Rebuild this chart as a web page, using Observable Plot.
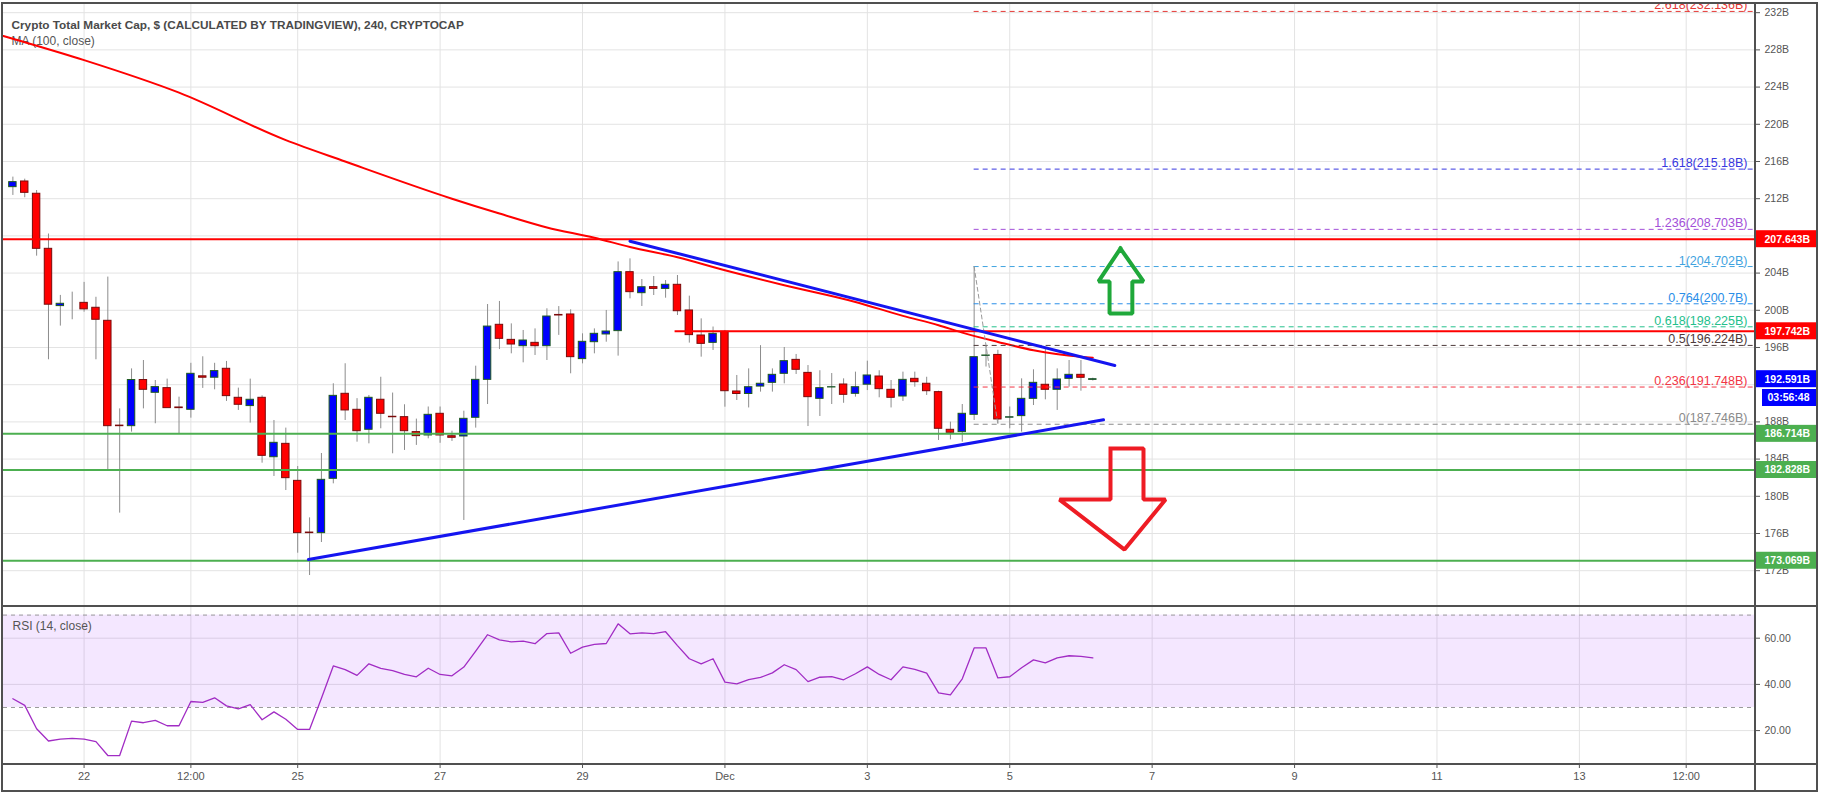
<!DOCTYPE html>
<html><head><meta charset="utf-8">
<script src="https://cdn.jsdelivr.net/npm/d3@7"></script>
<script src="https://cdn.jsdelivr.net/npm/@observablehq/plot@0.6"></script>
<style>
html,body{margin:0;padding:0;background:#fff;}
#wrap{position:relative;width:1821px;height:796px;overflow:hidden;background:#fff;}
#wrap > svg{position:absolute;left:0;}
.sep{position:absolute;background:#505050;}
</style></head><body><div id="wrap"></div>
<script>
// ---------------- DATA ----------------
const startUTC = Date.UTC(2018, 10, 21, 0, 0);   // first 4h bar
const barHours = 4;
const open  = [213.24,213.85,212.53,206.61,200.45,200.8,200.8,200.27,198.87,187.6,187.54,192.5,191.13,191.63,189.55,189.3,192.9,192.75,193.71,190.59,189.7,190.59,184.2,185.64,181.66,176.1,176.04,181.88,191.02,189.3,187.15,190.38,188.55,188.51,186.9,186.54,188.87,186.46,186.43,188.44,192.52,198.44,196.82,196.14,196.5,196.14,199.5,199.55,194.75,196.57,197.4,197.76,204.1,201.84,202.49,202.3,202.74,199.98,197.29,196.5,197.69,191.27,191.0,191.8,192.2,193.17,194.67,193.27,190.48,191.7,192.02,191.02,192.0,192.88,191.45,190.73,192.63,192.1,191.2,187.15,186.9,188.76,195.1,195.2,188.45,188.62,190.48,191.99,191.45,192.63,193.06,192.52];
const high  = [214.32,214.1,212.88,208.2,201.6,201.95,203.0,201.4,203.57,189.4,193.7,194.6,192.45,192.6,190.66,194.3,195.0,194.3,194.5,191.63,192.6,190.8,188.15,187.33,183.2,177.68,184.6,192.1,194.25,190.5,190.84,192.8,191.1,189.84,188.3,189.6,189.6,187.0,189.15,193.99,200.62,200.95,198.54,197.83,198.0,200.16,200.4,200.05,197.47,198.0,199.98,205.2,205.53,203.31,203.63,203.2,203.74,201.52,199.08,198.2,197.83,192.99,193.7,196.2,193.7,196.0,195.25,194.06,193.5,193.2,192.63,193.35,194.53,193.5,192.45,193.35,193.35,192.8,191.3,187.97,189.87,204.7,196.2,195.7,189.6,192.63,193.6,195.86,193.7,194.6,194.6,192.7];
const low   = [212.35,212.1,205.82,194.68,198.3,198.98,199.8,194.68,182.77,178.19,186.9,189.4,187.8,189.87,186.72,188.4,191.6,191.45,190.2,189.23,187.87,183.56,182.13,180.62,173.88,171.48,175.03,181.34,188.15,185.82,185.64,187.26,184.57,184.93,185.47,186.18,185.7,185.9,177.4,187.33,189.87,195.78,195.32,194.35,195.14,194.6,197.3,193.17,194.24,195.32,196.57,195.07,201.23,200.41,201.59,201.3,199.44,196.47,194.96,195.68,189.58,190.3,189.5,191.2,191.2,192.09,193.1,187.5,188.58,189.87,190.0,190.66,191.37,190.59,189.5,190.2,191.73,190.84,186.0,186.07,185.82,188.15,193.9,187.75,187.26,186.9,189.76,190.37,189.23,191.73,191.3,192.4];
const close = [213.78,212.63,206.61,200.6,200.7,200.8,200.1,198.98,187.54,187.54,192.5,191.45,191.74,189.48,189.48,193.17,192.75,193.46,190.77,189.84,190.38,184.35,185.75,181.95,176.04,176.04,181.77,190.8,189.23,187.0,190.59,188.87,188.5,187.0,186.47,188.76,186.54,186.29,188.33,192.52,198.25,196.93,196.32,196.75,196.14,199.33,199.44,194.96,196.61,197.47,197.72,204.1,201.95,202.48,202.3,202.74,199.9,197.33,196.39,197.47,191.3,191.0,191.73,192.1,193.06,194.53,193.6,190.66,191.63,191.73,190.91,191.73,192.99,191.52,190.59,192.52,192.27,191.3,187.26,186.83,188.87,194.96,195.14,188.26,188.5,190.48,192.2,191.45,192.56,193.06,192.74,192.59];
const rsi   = [33.8,30.9,20.8,15.5,16.3,16.6,16.3,15.2,9.2,9.2,24.1,23.4,24.4,22.1,22.1,32.6,32.2,34.2,30.7,29.4,31.2,24.7,28.1,24.9,20.5,20.5,34.0,48.0,46.4,43.9,48.9,46.9,46.0,44.3,43.3,47.0,44.3,43.7,47.5,54.4,61.5,59.3,58.4,58.7,57.6,62.0,62.3,53.5,56.1,57.3,57.7,66.2,61.9,62.3,62.0,62.8,56.8,51.1,48.9,51.1,41.0,40.2,42.1,43.0,45.0,48.5,46.4,41.2,43.1,43.4,42.0,44.6,47.6,44.3,42.0,47.6,46.5,44.9,36.3,35.5,42.4,55.8,55.8,42.8,43.3,47.2,50.6,49.3,51.5,52.4,52.1,51.5];
// MA(100) read at these bar positions
const maBars   = [-0.8,0,6,14,23,28,37,41,45,49,52,56,60,65,71,75,78,80,83,86,90,91];
const maValues = [229.5,229.2,226.9,223.4,218.3,216.0,212.0,210.4,208.9,207.8,206.8,205.7,204.3,202.7,200.9,199.4,198.4,197.6,196.6,195.7,195.0,194.9];

const priceTicks = [172,176,180,184,188,192,196,200,204,208,212,216,220,224,228,232];
const rsiTicks = [20,40,60];
const tickDates = [Date.UTC(2018,10,22),Date.UTC(2018,10,23,12),Date.UTC(2018,10,25),Date.UTC(2018,10,27),Date.UTC(2018,10,29),Date.UTC(2018,11,1),Date.UTC(2018,11,3),Date.UTC(2018,11,5),Date.UTC(2018,11,7),Date.UTC(2018,11,9),Date.UTC(2018,11,11),Date.UTC(2018,11,13),Date.UTC(2018,11,14,12)];
const tickLabels = ["22","12:00","25","27","29","Dec","3","5","7","9","11","13","12:00"];

// horizontal levels
const levelValues = [207.643, 197.742, 186.714, 182.828, 173.069];
const levelColors = ["#ff0000","#ff0000","#4caf50","#4caf50","#4caf50"];
const levelStartBars = [-0.79, 55.8, -0.79, -0.79, -0.79];
const lastPrice = 192.591;
const countdown = "03:56:48";

// fibonacci tool
const fibRatios = ["2.618","1.618","1.236","1","0.764","0.618","0.5","0.236","0"];
const fibValues = [232.136,215.18,208.703,204.702,200.7,198.225,196.224,191.748,187.746];
const fibColors = ["#e53935","#3838e0","#a24fd8","#3fa3e0","#2a8ee8","#24c08c","#4e3b3b","#f23645","#8a8a8a"];
const fibStartBar = 81, fibEndBar = 83;

// trend lines (bar, price)
const upperTrendBars = [52.0, 92.85], upperTrendPrices = [207.43, 194.06];
const lowerTrendBars = [24.9, 91.9],  lowerTrendPrices = [173.2, 188.22];

// arrows (bar, price)
const greenArrowBars   = [93.33,95.27,94.33,94.33,92.41,92.41,91.48,93.33];
const greenArrowPrices = [206.64,203.10,203.10,199.66,199.66,203.10,203.10,206.64];
const redArrowBars     = [92.49,95.27,95.27,97.13,93.67,88.19,92.49,92.49];
const redArrowPrices   = [185.13,185.13,179.65,179.65,174.27,179.65,179.65,185.13];

// ---------------- BUILD ----------------
const bar = i => new Date(startUTC + i * barHours * 3600e3);
const xDomain = [bar(-0.79), bar(146.84)];
const xMax = xDomain[1];
const candles = open.map((o, i) => ({t: bar(i), o, h: high[i], l: low[i], c: close[i], up: close[i] >= o}));
const half = 75 * 60e3;
const FONT = "'Liberation Sans', Arial, Helvetica, sans-serif";
const labelMap = new Map(tickDates.map((d, i) => [d, tickLabels[i]]));
const tickDateObjs = tickDates.map(d => new Date(d));
const ma = maBars.map((b, i) => ({t: bar(b), v: maValues[i]}));
const levels = levelValues.map((v, i) => ({v, color: levelColors[i], t1: bar(levelStartBars[i])}));
const fibs = fibValues.map((v, i) => ({v, color: fibColors[i], label: `${fibRatios[i]}(${v}B)`}));
const boxes = [
  ...levels.map(d => ({v: d.v, color: d.color, label: d.v.toFixed(3) + "B"})),
  {v: lastPrice, color: "#0000ff", label: lastPrice.toFixed(3) + "B"}
];
// tick labels fully hidden behind a price box are not shown
const shownTicks = priceTicks.filter(t => !boxes.some(b => Math.abs(b.v - t) < 0.7));
const pts = (bs, ps) => bs.map((b, i) => ({t: bar(b), v: ps[i]}));

const main = Plot.plot({
  width: 1821, height: 606,
  marginLeft: 3, marginRight: 66, marginTop: 4, marginBottom: 0,
  style: {fontFamily: FONT, background: "transparent", overflow: "visible"},
  x: {type: "utc", domain: xDomain, axis: null, label: null},
  y: {domain: [168.15, 232.88], axis: null, label: null},
  marks: [
    Plot.gridX(tickDateObjs, {stroke: "#e3e3e3", strokeOpacity: 1}),
    Plot.gridY(priceTicks, {stroke: "#e3e3e3", strokeOpacity: 1}),
    Plot.axisY(shownTicks, {anchor: "right", label: null, tickSize: 4, tickPadding: 5, tickFormat: d => d + "B", fontSize: 10.5, color: "#555"}),
    Plot.text(["Crypto Total Market Cap, $ (CALCULATED BY TRADINGVIEW), 240, CRYPTOCAP"], {frameAnchor: "top-left", text: d => d, dx: 8, dy: 16, textAnchor: "start", fontSize: 11.8, fontWeight: "bold", fill: "#4a4a4a"}),
    Plot.text(["MA (100, close)"], {frameAnchor: "top-left", text: d => d, dx: 8, dy: 32, textAnchor: "start", fontSize: 12, fill: "#555"}),
    // candles
    Plot.ruleX(candles, {x: "t", y1: "l", y2: "h", stroke: "#8c8c8c", strokeWidth: 1}),
    Plot.rect(candles, {x1: d => new Date(+d.t - half), x2: d => new Date(+d.t + half), y1: "o", y2: "c",
      fill: d => d.up ? "#0000ff" : "#ff0000", stroke: d => d.up ? "#1d5a1d" : "#7a0a0a", strokeWidth: 1}),
    // moving average
    Plot.line(ma, {x: "t", y: "v", stroke: "#ff0000", strokeWidth: 2, curve: "monotone-x"}),
    // levels
    Plot.ruleY(levels, {y: "v", x1: "t1", x2: () => xMax, stroke: "color", strokeWidth: 2}),
    // fib
    Plot.ruleY(fibs, {y: "v", x1: () => bar(fibStartBar), x2: () => xMax, stroke: "color", strokeWidth: 1, strokeDasharray: "5,4"}),
    Plot.line(pts([fibStartBar, fibEndBar], [fibValues[3], fibValues[8]]), {x: "t", y: "v", stroke: "#999", strokeWidth: 1, strokeDasharray: "4,3"}),
    Plot.text(fibs, {frameAnchor: "right", y: "v", text: "label", fill: "color", textAnchor: "end", dx: -8, dy: -6, fontSize: 12.5, clip: true}),
    // trend lines
    Plot.line(pts(upperTrendBars, upperTrendPrices), {x: "t", y: "v", stroke: "#1515f0", strokeWidth: 3}),
    Plot.line(pts(lowerTrendBars, lowerTrendPrices), {x: "t", y: "v", stroke: "#1515f0", strokeWidth: 3}),
    // arrows
    Plot.line(pts(greenArrowBars, greenArrowPrices), {x: "t", y: "v", stroke: "#1fa83a", strokeWidth: 4, strokeLinejoin: "miter", strokeLinecap: "square"}),
    Plot.line(pts(redArrowBars, redArrowPrices), {x: "t", y: "v", stroke: "#ee1c24", strokeWidth: 4, strokeLinejoin: "miter", strokeLinecap: "square"}),
    // price labels on axis
    Plot.rect(boxes, {x1: () => xMax, x2: () => xMax, y1: "v", y2: "v", fill: "color", insetRight: -62, insetTop: -8.5, insetBottom: -8.5}),
    Plot.text(boxes, {frameAnchor: "right", y: "v", text: "label", fill: "white", fontWeight: "bold", textAnchor: "start", dx: 9, fontSize: 10.5}),
    Plot.rect([lastPrice], {x1: () => xMax, x2: () => xMax, y1: d => d, y2: d => d, fill: "#0000ff", insetLeft: 7, insetRight: -62, insetTop: 10.3, insetBottom: -27.3}),
    Plot.text([countdown], {frameAnchor: "right", y: () => lastPrice, text: d => d, fill: "white", fontWeight: "bold", textAnchor: "start", dx: 12, dy: 18.8, fontSize: 10.5})
  ]
});
main.style.top = "0px";

const rsiPlot = Plot.plot({
  width: 1821, height: 190,
  marginLeft: 3, marginRight: 66, marginTop: 0, marginBottom: 32,
  style: {fontFamily: FONT, background: "transparent", overflow: "visible"},
  x: {type: "utc", domain: xDomain, axis: null, label: null},
  y: {domain: [5.32, 73.72], axis: null, label: null},
  marks: [
    Plot.gridX(tickDateObjs, {stroke: "#e3e3e3", strokeOpacity: 1}),
    Plot.gridY(rsiTicks, {stroke: "#e3e3e3", strokeOpacity: 1}),
    Plot.rect([{a: 30, b: 70}], {x1: () => xDomain[0], x2: () => xMax, y1: "a", y2: "b", fill: "#9b30ff", fillOpacity: 0.115}),
    Plot.ruleY([30, 70], {stroke: "#9a9a9a", strokeDasharray: "4,4", strokeWidth: 1}),
    Plot.line(rsi.map((v, i) => ({t: bar(i), v})), {x: "t", y: "v", stroke: "#a12cc4", strokeWidth: 1.3}),
    Plot.axisY(rsiTicks, {anchor: "right", label: null, tickSize: 4, tickPadding: 5, tickFormat: d3.format(".2f"), fontSize: 10.5, color: "#555"}),
    Plot.axisX(tickDateObjs, {anchor: "bottom", label: null, tickSize: 4, tickPadding: 4, tickFormat: d => labelMap.get(+d), fontSize: 11, color: "#555"}),
    Plot.text(["RSI (14, close)"], {frameAnchor: "top-left", text: d => d, dx: 9, dy: 15, textAnchor: "start", fontSize: 12, fill: "#555"})
  ]
});
rsiPlot.style.top = "606px";

const wrap = document.getElementById("wrap");
wrap.appendChild(main);
wrap.appendChild(rsiPlot);
// pane separators / frame
function sep(l, t, w, h) { const d = document.createElement("div"); d.className = "sep"; Object.assign(d.style, {left: l + "px", top: t + "px", width: w + "px", height: h + "px"}); wrap.appendChild(d); }
sep(1, 2, 1817, 2);      // top
sep(1, 790, 1817, 2);    // bottom
sep(1, 2, 2, 790);       // left
sep(1816, 2, 2, 790);    // right
sep(1754, 3, 1.5, 788);  // price axis separator
sep(2, 605, 1815, 1.5);  // main / RSI
sep(2, 763, 1815, 1.5);  // RSI / time axis
</script></body></html>
